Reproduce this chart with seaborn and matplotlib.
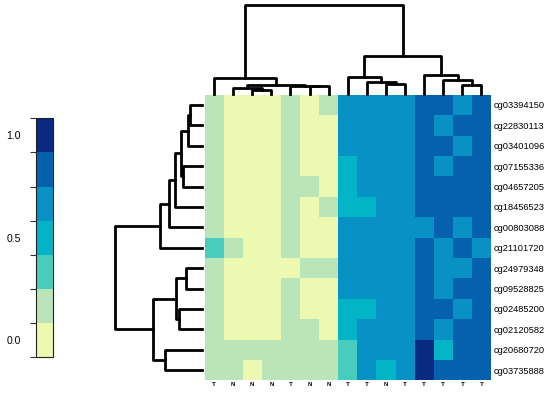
import numpy as np
import matplotlib
matplotlib.use('Agg')
import matplotlib.pyplot as plt
import seaborn as sns
from matplotlib.colors import ListedColormap

# Row / column labels in display (clustered) order
row_labels = ['cg03394150', 'cg22830113', 'cg03401096', 'cg07155336',
              'cg04657205', 'cg18456523', 'cg00803088', 'cg21101720',
              'cg24979348', 'cg09528825', 'cg02485200', 'cg02120582',
              'cg20680720', 'cg03735888']
col_labels = ['T', 'N', 'N', 'N', 'T', 'N', 'N', 'T', 'T', 'N',
              'T', 'T', 'T', 'T', 'T']

# colour bin of each cell (0 = 0.0 ... 6 = 1.0)
levels = [
    [1, 0, 0, 0, 1, 0, 1, 4, 4, 4, 4, 5, 5, 4, 5],
    [1, 0, 0, 0, 1, 0, 0, 4, 4, 4, 4, 5, 4, 5, 5],
    [1, 0, 0, 0, 1, 0, 0, 4, 4, 4, 4, 5, 5, 4, 5],
    [1, 0, 0, 0, 1, 0, 0, 3, 4, 4, 4, 5, 4, 5, 5],
    [1, 0, 0, 0, 1, 1, 0, 3, 4, 4, 4, 5, 5, 5, 5],
    [1, 0, 0, 0, 1, 0, 1, 3, 3, 4, 4, 5, 5, 5, 5],
    [1, 0, 0, 0, 1, 0, 0, 4, 4, 4, 4, 4, 5, 4, 5],
    [2, 1, 0, 0, 1, 0, 0, 4, 4, 4, 4, 5, 4, 5, 4],
    [1, 0, 0, 0, 0, 1, 1, 4, 4, 4, 4, 5, 4, 4, 5],
    [1, 0, 0, 0, 1, 0, 0, 4, 4, 4, 4, 5, 4, 5, 5],
    [1, 0, 0, 0, 1, 0, 0, 3, 3, 4, 4, 5, 5, 4, 5],
    [1, 0, 0, 0, 1, 1, 0, 3, 4, 4, 4, 5, 4, 5, 5],
    [1, 1, 1, 1, 1, 1, 1, 2, 4, 4, 4, 6, 3, 5, 5],
    [1, 1, 0, 1, 1, 1, 1, 2, 4, 3, 4, 6, 5, 5, 5],
]
beta = np.array(levels) / 6.0

# merges (a, b, height); ids >= n_leaves point to earlier merges
row_links = [
    (0, 1, 0.135), (14, 2, 0.165), (3, 4, 0.22), (15, 16, 0.24),
    (17, 5, 0.31), (18, 6, 0.385), (19, 7, 0.48),
    (8, 9, 0.18), (10, 11, 0.27), (21, 22, 0.296), (12, 13, 0.42),
    (23, 24, 0.56), (20, 25, 1.0),
]
col_links = [
    (2, 3, 0.045), (1, 15, 0.064), (5, 6, 0.082), (4, 17, 0.09),
    (16, 18, 0.10), (0, 19, 0.176),
    (9, 10, 0.112), (8, 21, 0.131), (7, 22, 0.188),
    (13, 14, 0.10), (12, 24, 0.15), (11, 25, 0.213),
    (23, 26, 0.42), (20, 27, 1.0),
]

colors = ['#edf8b1', '#b9e5b9', '#48ccbb', '#02b4c6',
          '#0891c4', '#0560ad', '#0a2a82']


def draw_dendrogram(ax, links, n, columns):
    pos = {i: i + 0.5 for i in range(n)}
    hgt = {i: 0.0 for i in range(n)}
    for k, (a, b, h) in enumerate(links):
        xs = [pos[a], pos[a], pos[b], pos[b]]
        ys = [hgt[a], h, h, hgt[b]]
        if columns:
            ax.plot(xs, ys, color='black', lw=2, clip_on=False)
        else:
            ax.plot(ys, xs, color='black', lw=2, clip_on=False)
        pos[n + k] = (pos[a] + pos[b]) / 2
        hgt[n + k] = h
    ax.axis('off')


plt.rcParams['font.family'] = ['Liberation Sans', 'DejaVu Sans']

fig = plt.figure(figsize=(5.5, 3.95), dpi=100)
W, H = 550, 395


def px_axes(x0, y0, x1, y1):
    return fig.add_axes([x0 / W, 1 - y1 / H, (x1 - x0) / W, (y1 - y0) / H])


ax = px_axes(204.5, 94.8, 491, 380.4)
cax = px_axes(36, 118.3, 53.3, 357.3)
col_ax = px_axes(204.5, 5, 491, 93.5)
row_ax = px_axes(115, 94.8, 202, 380.4)

sns.heatmap(beta, ax=ax, cmap=ListedColormap(colors),
            vmin=-1 / 12, vmax=13 / 12, cbar_ax=cax,
            xticklabels=col_labels, yticklabels=row_labels)

ax.yaxis.tick_right()
ax.tick_params(axis='y', length=0, pad=2, labelsize=6.7, rotation=0)
ax.tick_params(axis='x', length=0, pad=1.5, rotation=0)
for t in ax.get_xticklabels():
    t.set_fontsize(4.5)
    t.set_fontweight('bold')

# colour bar
cb = ax.collections[0].colorbar
cb.outline.set_linewidth(0.8)
cb.outline.set_edgecolor('#222222')
cax.yaxis.set_ticks_position('left')
cb.set_ticks([0.0, 0.5, 1.0])
cb.set_ticklabels(['0.0', '0.5', '1.0'])
cax.set_yticks([(k - 0.5) / 6 for k in range(8)], minor=True)
cax.tick_params(which='major', length=0, pad=11, labelsize=7.5)
cax.tick_params(which='minor', length=4, width=0.8, color='#333333',
                left=True, right=False)

# dendrograms
draw_dendrogram(col_ax, col_links, 15, True)
col_ax.set_xlim(0, 15)
col_ax.set_ylim(0, 1)

draw_dendrogram(row_ax, row_links, 14, False)
row_ax.set_xlim(1, 0)
row_ax.set_ylim(14, 0)

fig.savefig('out.png', dpi=100)
